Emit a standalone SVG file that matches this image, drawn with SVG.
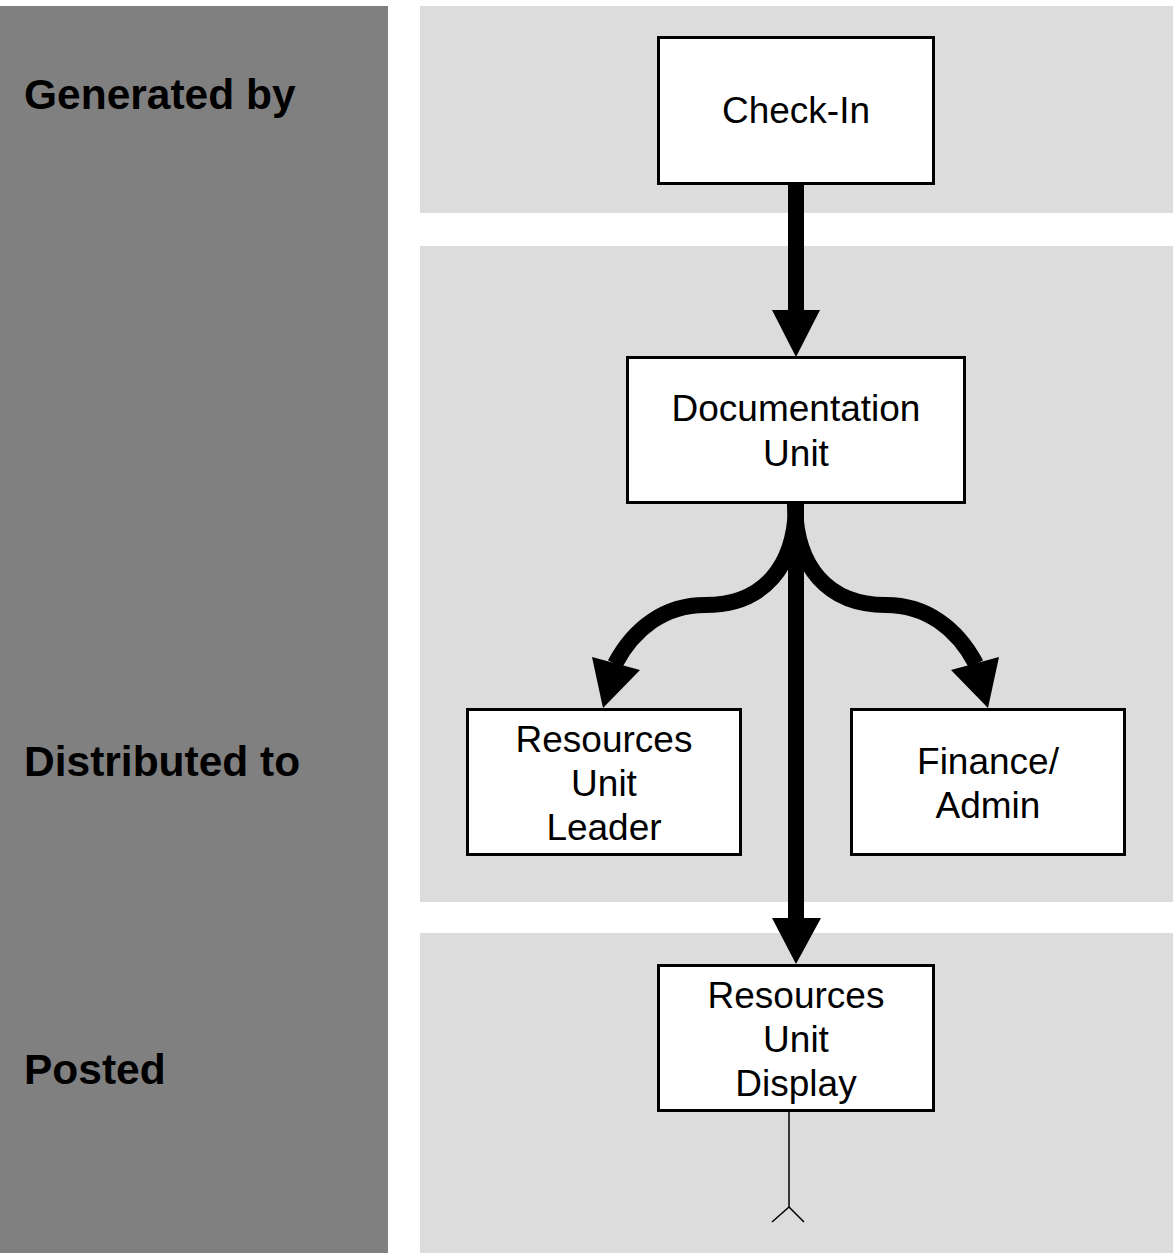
<svg xmlns="http://www.w3.org/2000/svg" width="1175" height="1253" viewBox="0 0 1175 1253">
<defs>
<style>
.box{fill:#ffffff;stroke:#000000;stroke-width:3}
.lbl{font-family:"Liberation Sans",Arial,sans-serif;font-size:37px;fill:#000;text-anchor:middle}
.side{font-family:"Liberation Sans",Arial,sans-serif;font-size:42.5px;font-weight:bold;fill:#000}
.panel{fill:#dcdcdc}
.thick{fill:none;stroke:#000;stroke-width:16}
.head{fill:#000}
.thin{fill:none;stroke:#000;stroke-width:1.5}
</style>
</defs>
<rect width="1175" height="1253" fill="#ffffff"/>
<g id="lanes">
<rect x="0" y="6" width="388" height="1247" fill="#808080"/>
<rect class="panel" x="420" y="6" width="753" height="207"/>
<rect class="panel" x="420" y="246" width="753" height="656"/>
<rect class="panel" x="420" y="933" width="753" height="320"/>
<text class="side" x="24" y="109">Generated by</text>
<text class="side" x="24" y="776">Distributed to</text>
<text class="side" x="24" y="1084">Posted</text>
</g>
<g id="connectors">
<line class="thick" x1="796" y1="183" x2="796" y2="315"/>
<polygon class="head" points="772,310 820,310 796,357"/>
<line class="thick" x1="796" y1="502" x2="796" y2="922"/>
<polygon class="head" points="772,918 821,918 796,964"/>
<path class="thick" d="M796,503 C796,567 763,605 705,605 C665,605 634,628 615,664"/>
<polygon class="head" points="592,657 640,670 603,708"/>
<path class="thick" d="M795,503 C795,567 828,605 886,605 C926,605 957,628 976,664"/>
<polygon class="head" points="999,657 951,670 988,708"/>
<line class="thin" x1="789" y1="1111" x2="789" y2="1207"/>
<polyline class="thin" points="772,1222 789,1207 804,1222"/>
</g>
<g id="check-in">
<rect class="box" x="658.5" y="37.5" width="275" height="146"/>
<text class="lbl" x="796" y="123">Check-In</text>
</g>
<g id="documentation-unit">
<rect class="box" x="627.5" y="357.5" width="337" height="145"/>
<text class="lbl" x="796" y="421">Documentation</text>
<text class="lbl" x="796" y="466">Unit</text>
</g>
<g id="resources-unit-leader">
<rect class="box" x="467.5" y="709.5" width="273" height="145"/>
<text class="lbl" x="604" y="752">Resources</text>
<text class="lbl" x="604" y="796">Unit</text>
<text class="lbl" x="604" y="840">Leader</text>
</g>
<g id="finance-admin">
<rect class="box" x="851.5" y="709.5" width="273" height="145"/>
<text class="lbl" x="988" y="774">Finance/</text>
<text class="lbl" x="988" y="818">Admin</text>
</g>
<g id="resources-unit-display">
<rect class="box" x="658.5" y="965.5" width="275" height="145"/>
<text class="lbl" x="796" y="1008">Resources</text>
<text class="lbl" x="796" y="1052">Unit</text>
<text class="lbl" x="796" y="1096">Display</text>
</g>
</svg>
